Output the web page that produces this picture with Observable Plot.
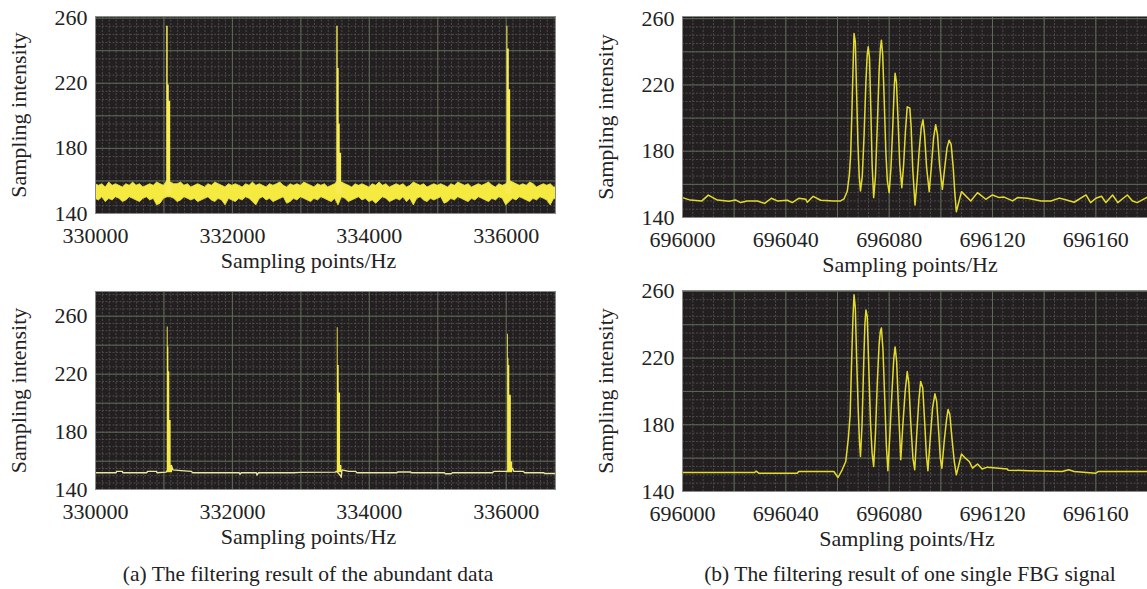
<!DOCTYPE html>
<html><head><meta charset="utf-8">
<script src="https://cdn.jsdelivr.net/npm/d3@7"></script>
<script src="https://cdn.jsdelivr.net/npm/@observablehq/plot@0.6"></script>
<style>
body{margin:0;background:#fff;}
#root{position:relative;width:1147px;height:589px;overflow:hidden;font-family:"Liberation Serif","Times New Roman",serif;}
.panel{position:absolute;}
.cap{position:absolute;font-size:21.5px;color:#222;white-space:nowrap;transform:translateX(-50%);top:562px;}
</style></head><body><div id="root"></div>
<script>
// ---------- tick labels ----------
const xTicksA = [330000, 332000, 334000, 336000];
const xTicksB = [696000, 696040, 696080, 696120, 696160];
const yTicks = [140, 180, 220, 260];

// ---------- (a) top: raw noisy band (per 50-unit bin, starting at 330000) ----------
const bandStart = 330000, bandStep = 50;
const bandHigh = [158,157,158,156,159,157,158,157,156,158, 157,159,157,158,156,157,158,157,159,158,
  157,160,159,158,158,159,157,158,156,157, 158,157,156,158,157,159,158,157,156,158,
  157,158,157,156,158,157,159,157,158,157, 156,158,157,158,159,157,156,158,157,158,
  157,159,158,157,156,158,157,158,156,157, 158,160,159,158,157,156,158,157,158,157,
  156,158,157,159,157,158,156,157,158,157, 158,156,157,159,158,157,158,156,157,158,
  157,158,157,156,158,157,159,158,157,158, 156,157,158,157,158,159,157,156,158,157,
  158,160,159,158,157,158,157,159,158,156, 157,158,157,158,156];
const bandLow = [149,148,150,147,149,148,150,149,147,148, 150,149,148,147,149,150,148,149,145,146,
  149,150,150,149,147,148,150,149,148,149, 147,148,149,150,148,147,149,148,145,149,
  148,147,149,148,150,149,147,145,149,150, 148,149,147,148,149,150,146,147,149,148,
  150,149,148,147,149,148,150,149,148,147, 149,145,150,149,147,148,149,150,148,149,
  147,148,146,148,150,149,147,148,149,148, 150,147,149,145,149,150,148,147,149,148,
  149,150,146,147,149,148,150,149,148,147, 149,148,150,149,148,147,149,148,150,149,
  145,147,149,148,150,149,148,147,149,148, 150,149,148,145,149];
const topAPeak1 = [[331030,157],[331040,255],[331062,219],[331078,209],[331098,158],[331120,157]];
const topAPeak2 = [[333515,157],[333525,255],[333545,229],[333560,195],[333575,177],[333595,158],[333615,157]];
const topAPeak3 = [[336000,157],[336010,255],[336025,241],[336045,216],[336065,158],[336085,157]];

// ---------- (a) bottom: filtered ----------
const bottomABase = [[330000,152],[330300,152],[330310,153],[330390,153],[330400,152],[330750,152],[330760,153],[330890,153],[330900,152],
  [331030,152.5],[331040,153],[331110,157],[331130,154],[331250,153.5],[331400,153],[331420,152],[332100,152],[332110,151],[332130,152],
  [332350,152],[332360,150.5],[332380,152],[332900,152],[333000,152.3],[333500,152.5],[333525,153],[333580,150],[333590,149],[333600,154],
  [333700,153],[333800,153],[333820,152],[334400,152],[334420,152.6],[334600,152.6],[334620,152],[335100,152],[335110,151.4],[335200,151.4],
  [335210,152],[335800,152],[335820,153],[336012,153],[336095,155],[336110,153],[336250,153],[336270,152],[336550,152],[336560,151.5],[336720,151.5]];
const bottomAPeak1 = [[331040,153],[331048,252.6],[331062,238.8],[331072,221.6],[331085,188],[331105,157],[331125,155]];
const bottomAPeak2 = [[333525,153],[333532,252],[333545,226],[333560,207],[333580,157],[333600,153]];
const bottomAPeak3 = [[336012,153],[336020,247.6],[336032,231],[336040,226],[336052,205.5],[336075,159.5],[336095,155]];

// ---------- (b) single FBG signal, offsets from 696000 ----------
const topB = [[0,152],[3,150.5],[7.5,150],[10,153.5],[13.5,150.5],[18,149.8],[20.5,150.6],[22.5,149],[25,150],[29,150],[31.8,148.5],
  [34.4,151.6],[36.7,150],[40.6,150.4],[42.5,149],[45,151.6],[47.7,151],[48.3,149.2],[50.6,152.8],[53.5,150.4],[58.6,150],[61.2,150],
  [62.5,151.2],[63.8,156],[64.6,166],[65.1,178],[65.6,205],[66.1,235],[66.4,251],[66.9,246],[67.4,215],[67.9,185],[68.4,165],[68.9,156],
  [69.6,165],[70.3,190],[71,222],[71.5,238],[71.9,243],[72.4,236],[72.9,205],[73.4,172],[74,152],
  [74.7,165],[75.4,195],[76.1,228],[76.6,242],[77,247],[77.5,238],[78.1,210],[78.7,180],[79.3,162],[80,155],
  [80.7,170],[81.4,195],[82,220],[82.3,227],[82.8,222],[83.4,200],[84.1,172],[84.9,158],
  [85.6,172],[86.3,192],[87,206.8],[88,206],[88.5,195],[89.1,170],[90,147.5],
  [90.8,162],[91.6,180],[92.4,194],[93.1,199],[93.7,190],[94.5,170],[95.5,155.6],
  [96.3,170],[97.2,188],[98,196],[98.7,190],[99.5,172],[100.6,157],
  [101.5,170],[102.4,182],[103.2,186.6],[104,184],[104.8,170],[105.4,155],[106,143.5],
  [108,155.6],[111.6,150],[114.2,155],[117.4,151],[120,153.6],[122.6,152],[124.5,152.3],[127.8,150],[129.7,152],[133.6,151.6],
  [138.8,150],[142.6,150],[145.9,151.7],[149,150.4],[151.6,149.2],[156.2,153.6],[158,149],[160,151.6],[162.2,152.8],[163.9,149],
  [166.5,153.6],[168.5,149],[172.2,153.6],[174.2,150],[176,149],[180,152.3]];
const bottomB = [[0,151.4],[27.9,151.4],[28.5,152.2],[29.5,151],[44.4,151],[45,152],[58.6,152],[60.2,148.4],[61.8,153],[63.2,158],
  [64.2,172],[64.9,186],[65.5,220],[66,245],[66.4,258],[66.9,250],[67.4,220],[68,190],[68.5,170],[68.9,161],
  [69.5,180],[70.2,220],[70.6,240],[71,248.8],[71.5,245],[72.1,215],[72.8,180],[73.4,163],[74,155],
  [74.7,175],[75.4,205],[76.1,228],[76.6,236],[77,238],[77.6,225],[78.3,195],[78.9,168],[79.5,152.5],
  [80.3,175],[81.1,200],[81.8,220],[82.3,226.7],[82.9,218],[83.6,190],[84.5,159],
  [85.3,180],[86.2,200],[87,211.9],[87.6,205],[88.4,180],[89.2,160],[89.9,153],
  [90.7,175],[91.5,195],[92.2,206],[93,202],[93.8,180],[94.4,162],[95,152.5],
  [95.9,172],[96.8,190],[97.7,198.6],[98.4,194],[99.2,175],[99.8,160],[100.4,154],
  [101.3,170],[102.2,183],[102.8,189.2],[103.5,186],[104.3,172],[105.2,158],[106,150],
  [108,162.5],[109.5,160],[111,158],[112.3,154],[114.2,156.5],[116,153.5],[118,154.6],[125.8,153.5],[126,152.8],[134,152.5],
  [147,152],[149.5,153],[151.6,152],[160,151],[161,152],[180,152]];
const bOrigin = 696000;

// ---------- styling ----------
const BG = "#231f20", MAJOR = "#5b6b55", MINOR = "#4b4b49", FRAME = "#8a8a8a";
const FS = 22;
const FONT = {fontFamily: '"Liberation Serif","Times New Roman",serif', fontSize: FS + "px", color: "#222", background: "transparent", overflow: "visible"};

function makePanel({xDomain, yDomain, xTicks, xMajor, xMinor, yMajor, yMinor, mt, mb, ml, mr, w, h, lblDx, marks}) {
  return Plot.plot({
    width: w, height: h, marginTop: mt, marginBottom: mb, marginLeft: ml, marginRight: mr,
    style: FONT,
    x: {domain: xDomain},
    y: {domain: yDomain},
    marks: [
      Plot.frame({fill: BG}),
      Plot.gridX(xMinor, {stroke: MINOR, strokeOpacity: 1, strokeDasharray: "2,1.5"}),
      Plot.gridY(yMinor, {stroke: MINOR, strokeOpacity: 1, strokeDasharray: "2,1.5"}),
      Plot.gridX(xMajor, {stroke: MAJOR, strokeOpacity: 1}),
      Plot.gridY(yMajor, {stroke: MAJOR, strokeOpacity: 1}),
      ...marks,
      Plot.frame({stroke: FRAME, strokeWidth: 1}),
      Plot.axisX(xTicks, {tickSize: 0, tickPadding: 14, tickFormat: d => String(d), label: null, fill: "#222"}),
      Plot.text(["Sampling points/Hz"], {frameAnchor: "bottom", dy: 54, dx: lblDx, fontSize: FS, fill: "#222"}),
      Plot.axisY(yTicks, {tickSize: 0, tickPadding: 8, label: "Sampling intensity", labelArrow: "none", labelAnchor: "center", labelOffset: ml - 10, fill: "#222"})
    ]
  });
}

const rangeStep = (a, b, s) => d3.range(a, b + s / 2, s);

// (a) top
const band = bandHigh.map((hi, i) => ({x: bandStart + i * bandStep, lo: bandLow[i], hi}));
band.push({x: 336720, lo: bandLow[bandLow.length - 1], hi: bandHigh[bandHigh.length - 1]});
const toObj = (arr, p) => arr.map(([x, y]) => ({x, y, p}));
const topASpikes = [...toObj(topAPeak1, 1), ...toObj(topAPeak2, 2), ...toObj(topAPeak3, 3)];
const bottomASpikes = [...toObj(bottomAPeak1, 1), ...toObj(bottomAPeak2, 2), ...toObj(bottomAPeak3, 3)];

const gridA = {xMajor: rangeStep(330000, 336000, 1000), xMinor: rangeStep(330000, 336700, 100)};
const gridB = {xMajor: rangeStep(696000, 696180, 20), xMinor: rangeStep(696000, 696180, 4)};

const p1 = makePanel({
  xDomain: [330000, 336720], yDomain: [140, 261], xTicks: xTicksA, ...gridA,
  yMajor: rangeStep(160, 260, 20), yMinor: rangeStep(140, 260, 5),
  mt: 16, mb: 77, ml: 95, mr: 5, w: 560, h: 290, lblDx: -17,
  marks: [
    Plot.areaY(band, {x: "x", y1: "lo", y2: "hi", fill: "#f5ea3f", stroke: "#f5ea3f", strokeWidth: 0.8, clip: true}),
    Plot.areaY(topASpikes, {x: "x", y1: 152, y2: "y", z: "p", curve: "step-after", fill: "#f7ec55"})
  ]
});
const p2 = makePanel({
  xDomain: [696000, 696180], yDomain: [140, 261.3], xTicks: xTicksB, ...gridB,
  yMajor: rangeStep(160, 260, 20), yMinor: rangeStep(140, 260, 5),
  mt: 16, mb: 73, ml: 95, mr: 0, w: 560, h: 290, lblDx: -5,
  marks: [
    Plot.line(topB, {x: d => bOrigin + d[0], y: d => d[1], stroke: "#e4dc2c", strokeWidth: 1.5})
  ]
});
const p3 = makePanel({
  xDomain: [330000, 336720], yDomain: [140.5, 277], xTicks: xTicksA, ...gridA,
  yMajor: rangeStep(160, 260, 20), yMinor: rangeStep(145, 275, 5),
  mt: 16, mb: 76, ml: 95, mr: 5, w: 560, h: 290, lblDx: -17,
  marks: [
    Plot.line(bottomABase, {x: d => d[0], y: d => d[1], stroke: "#ece5a0", strokeWidth: 1.4}),
    Plot.areaY(bottomASpikes, {x: "x", y1: 152, y2: "y", z: "p", curve: "step-after", fill: "#f4e84a"})
  ]
});
const p4 = makePanel({
  xDomain: [696000, 696180], yDomain: [140, 260.5], xTicks: xTicksB, ...gridB,
  yMajor: rangeStep(160, 260, 20), yMinor: rangeStep(140, 260, 5),
  mt: 15, mb: 74, ml: 95, mr: 0, w: 560, h: 290, lblDx: -8,
  marks: [
    Plot.line(bottomB, {x: d => bOrigin + d[0], y: d => d[1], stroke: "#e4dc2c", strokeWidth: 1.5})
  ]
});

const root = document.getElementById("root");
[[p1, 0, 0], [p2, 587, 0], [p3, 0, 275], [p4, 587, 275]].forEach(([svg, l, t]) => {
  const d = document.createElement("div");
  d.className = "panel"; d.style.left = l + "px"; d.style.top = t + "px";
  d.appendChild(svg); root.appendChild(d);
});
[["(a) The filtering result of the abundant data", 308], ["(b) The filtering result of one single FBG signal", 910]].forEach(([txt, cx]) => {
  const c = document.createElement("div");
  c.className = "cap"; c.style.left = cx + "px"; c.textContent = txt; root.appendChild(c);
});
</script></body></html>
